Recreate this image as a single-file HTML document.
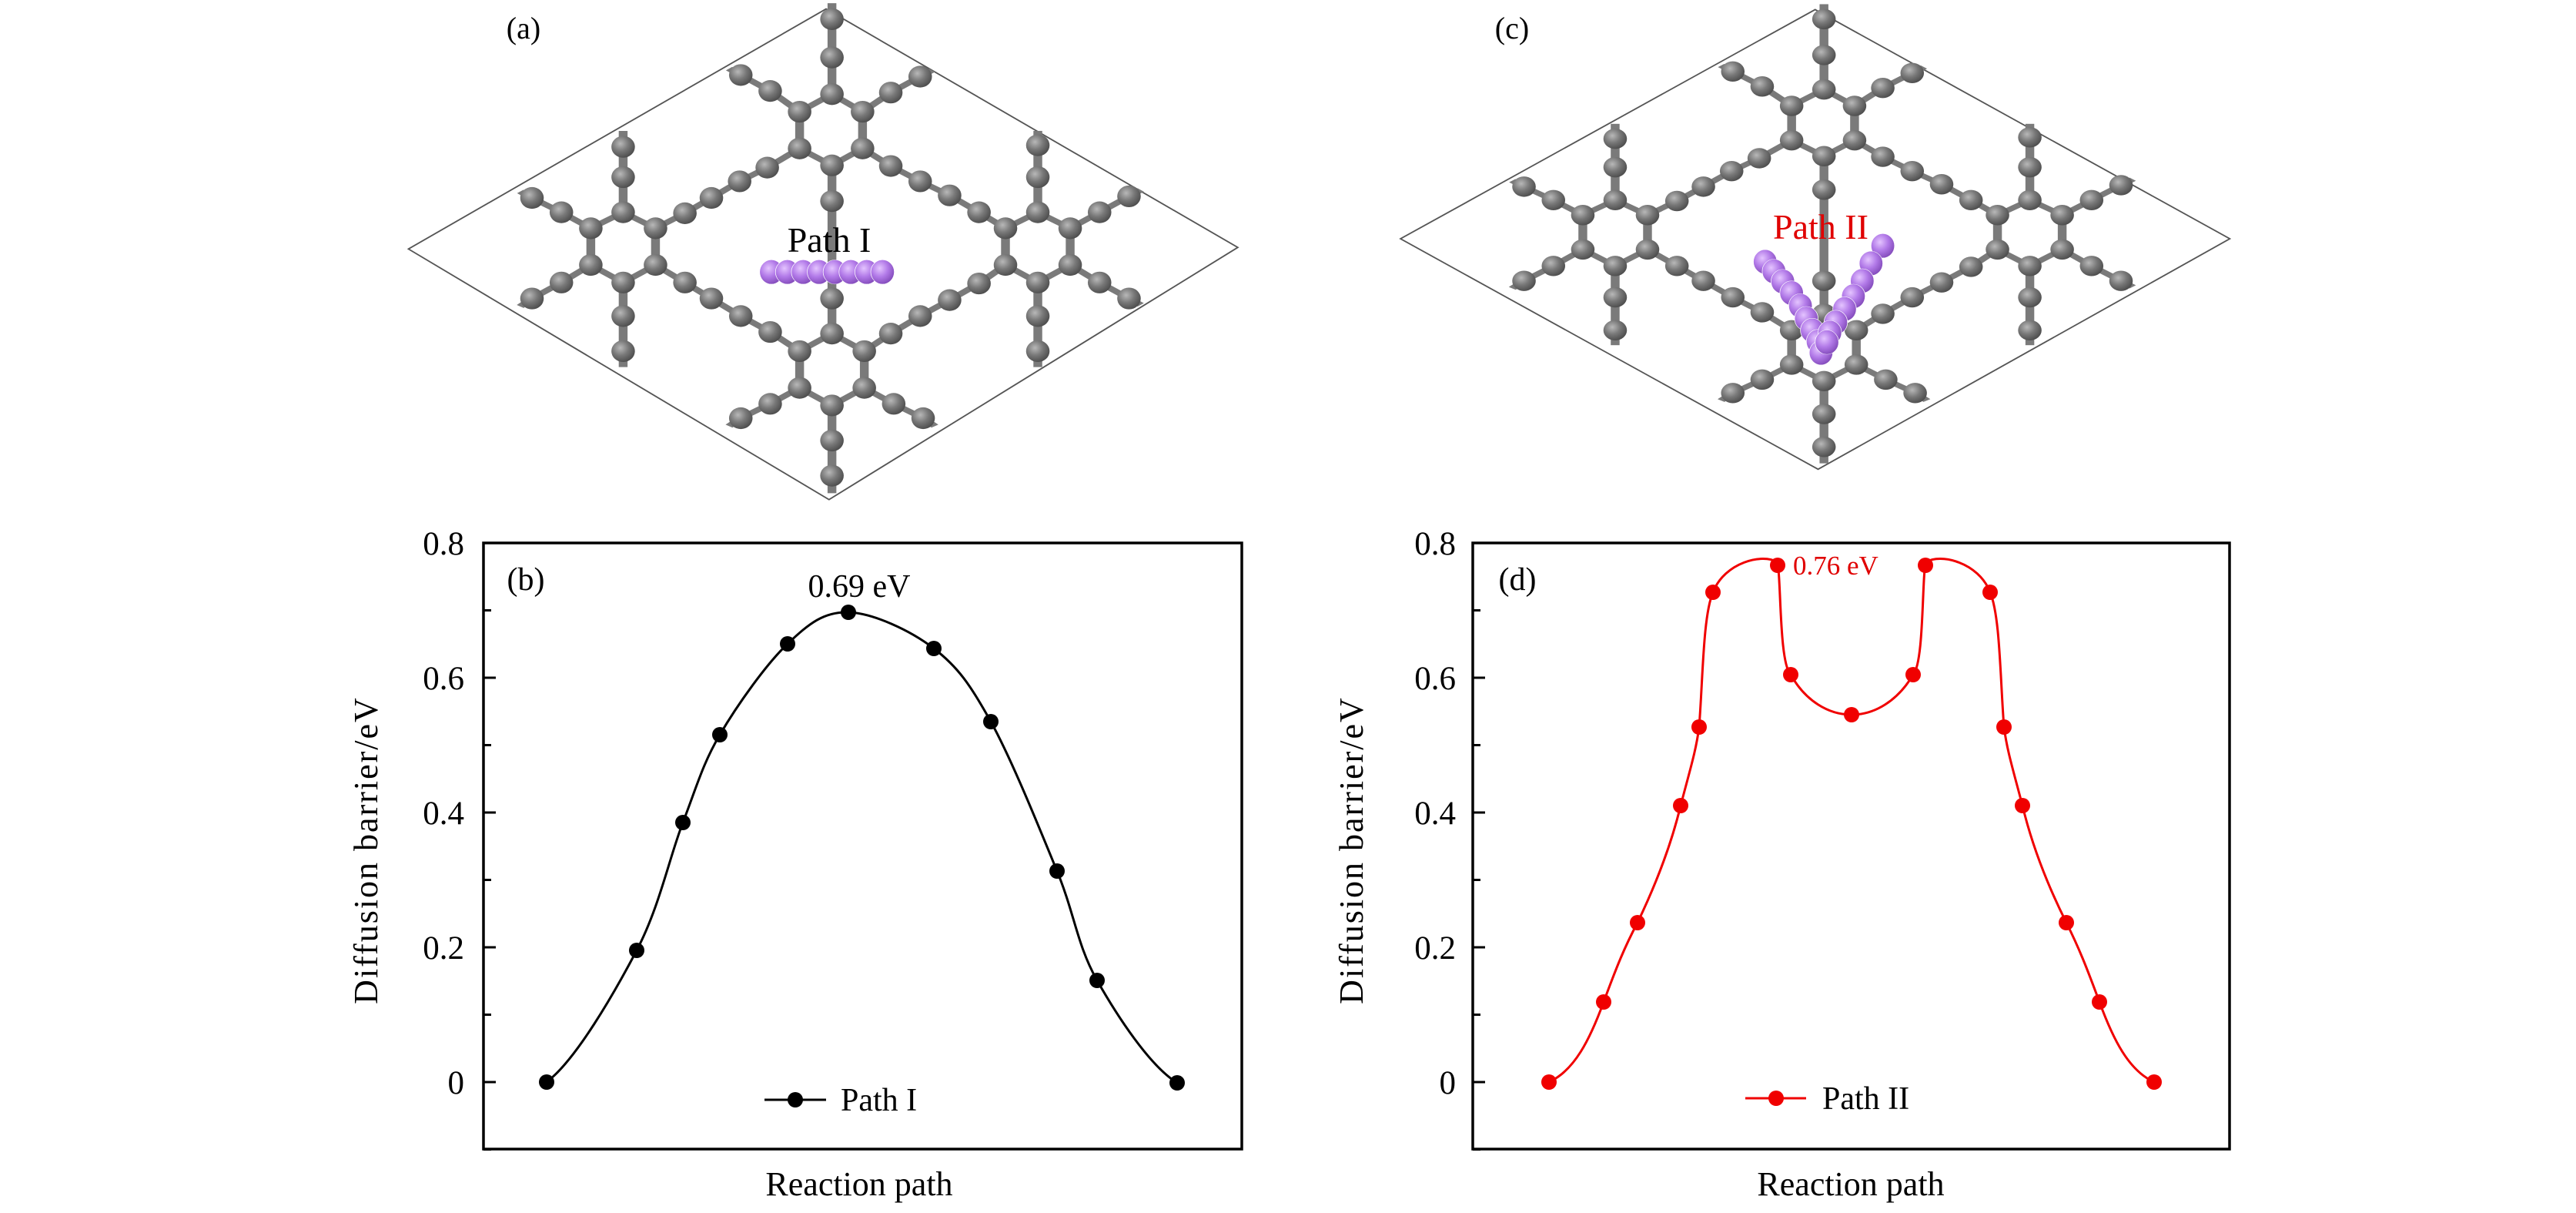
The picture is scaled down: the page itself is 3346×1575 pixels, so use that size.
<!DOCTYPE html>
<html><head><meta charset="utf-8"><style>
html,body{margin:0;padding:0;background:#fff;}
svg{display:block;}
text{font-family:"Liberation Serif",serif;}
</style></head><body>
<svg id="s" width="3346" height="1575" viewBox="0 0 3346 1575" xmlns="http://www.w3.org/2000/svg">
<defs>
<radialGradient id="ga" cx="0.38" cy="0.35" r="0.7"><stop offset="0" stop-color="#b8b8b8"/><stop offset="0.5" stop-color="#787878"/><stop offset="1" stop-color="#4a4a4a"/></radialGradient>
<radialGradient id="gp" cx="0.38" cy="0.35" r="0.7"><stop offset="0" stop-color="#e4c4ff"/><stop offset="0.5" stop-color="#b27ae8"/><stop offset="1" stop-color="#8048b8"/></radialGradient>
</defs>
<g transform="translate(500,0) scale(0.764,0.4145)">
  <polygon points="40,780 750,28 1450,775 755,1565" fill="none" stroke="#555" stroke-width="3.5"/>
  <g id="mol"></g>
  <g id="pa"></g>
</g>
<text x="680" y="50" font-size="40" text-anchor="middle">(a)</text>
<text x="1077" y="327" font-size="46" text-anchor="middle">Path I</text>
<g transform="translate(1800,0) scale(0.764,0.4145)">
  <polygon points="25,748 730,30 1435,748 735,1470" fill="none" stroke="#555" stroke-width="3.5"/>
  <g transform="translate(-15,30) scale(1,0.937) translate(0,-28)"><g id="mol2"></g></g>
  <g id="pc"></g>
</g>
<text x="1964" y="50" font-size="40" text-anchor="middle">(c)</text>
<text x="2365" y="310" font-size="46" text-anchor="middle" fill="#e00000">Path II</text>

<g id="axb"></g>
<text x="683" y="766" font-size="42" text-anchor="middle">(b)</text>
<text x="1116" y="775" font-size="42" text-anchor="middle">0.69 eV</text>
<text transform="translate(490,1104) rotate(-90)" font-size="44" text-anchor="middle" letter-spacing="2">Diffusion barrier/eV</text>
<text x="1116" y="1552" font-size="44" text-anchor="middle">Reaction path</text>
<path id="cb" fill="none" stroke="#000" stroke-width="3"/>
<g id="mb"></g>
<line x1="993" y1="1428" x2="1073" y2="1428" stroke="#000" stroke-width="3"/>
<circle cx="1033" cy="1428" r="10" fill="#000"/>
<text x="1092" y="1442" font-size="42">Path I</text>

<g id="axd"></g>
<text x="1971" y="766" font-size="42" text-anchor="middle">(d)</text>
<text x="2329" y="746" font-size="35" fill="#e00000">0.76 eV</text>
<text transform="translate(1770,1104) rotate(-90)" font-size="44" text-anchor="middle" letter-spacing="2">Diffusion barrier/eV</text>
<text x="2404" y="1552" font-size="44" text-anchor="middle">Reaction path</text>
<path fill="none" stroke="#f00000" stroke-width="3" d="M2012,1405 C2045,1390 2065,1350 2083,1301 C2100,1255 2110,1230 2127,1198 C2150,1150 2170,1100 2183,1046 C2195,1000 2203,975 2207,944 C2212,880 2212,800 2225,769 C2240,730 2290,718 2308,730 C2314,740 2310,860 2326,876 C2345,910 2375,928 2405,928 C2435,928 2465,910 2485,876 C2500,860 2496,740 2502,730 C2520,718 2570,730 2585,769 C2598,800 2598,880 2603,944 C2607,975 2615,1000 2627,1046 C2640,1100 2660,1150 2684,1198 C2700,1230 2710,1255 2727,1301 C2745,1350 2765,1390 2798,1405"/>
<g id="md"></g>
<line x1="2267" y1="1426" x2="2346" y2="1426" stroke="#f00000" stroke-width="3"/>
<circle cx="2307" cy="1426" r="10" fill="#f00000"/>
<text x="2367" y="1440" font-size="42">Path II</text>
</svg>
<script>
var NS="http://www.w3.org/2000/svg";
function el(p,t,a){var e=document.createElementNS(NS,t);for(var k in a)e.setAttribute(k,a[k]);p.appendChild(e);return e;}
function axes(id,L,R,labR){
  var g=document.getElementById(id);
  el(g,"rect",{x:L,y:705,width:R-L,height:787,fill:"none",stroke:"#000","stroke-width":3.5});
  for(var i=-1;i<=8;i++){var y=1405-i*87.5;
    var major=(i%2==0)&&i>=0;
    el(g,"line",{x1:L,y1:y,x2:L+(major?16:10),y2:y,stroke:"#000","stroke-width":3});
    if(major){var t=el(g,"text",{x:labR,y:y+15,"font-size":43,"text-anchor":"end"});t.textContent=(i==0?"0":(i/10).toFixed(1));}
  }
}
axes("axb",628,1613,603);
axes("axd",1913,2896,1891);
var pb=[[600,1405],[710,1405],[827,1234],[887,1068],[935,954],[1023,836],[1102,795],[1213,842],[1287,937],[1373,1131],[1425,1273],[1529,1406],[1640,1406]];
function cr(p){var d="M"+p[1][0]+","+p[1][1];for(var i=1;i<p.length-2;i++){var p0=p[i-1],p1=p[i],p2=p[i+1],p3=p[i+2];
 d+=" C"+(p1[0]+(p2[0]-p0[0])/6)+","+(p1[1]+(p2[1]-p0[1])/6)+" "+(p2[0]-(p3[0]-p1[0])/6)+","+(p2[1]-(p3[1]-p1[1])/6)+" "+p2[0]+","+p2[1];}return d;}
document.getElementById("cb").setAttribute("d",cr(pb));
var mb=document.getElementById("mb");pb.slice(1,-1).forEach(function(p){el(mb,"circle",{cx:p[0],cy:p[1],r:10,fill:"#000"});});
var pd=[[2012,1405],[2083,1301],[2127,1198],[2183,1046],[2207,944],[2225,769],[2309,734],[2326,876],[2405,928],[2485,876],[2501,734],[2585,769],[2603,944],[2627,1046],[2684,1198],[2727,1301],[2798,1405]];
var md=document.getElementById("md");pd.forEach(function(p){el(md,"circle",{cx:p[0],cy:p[1],r:10,fill:"#f00000"});});
var A={
 t1:[760,295],t2:[705,350],t3:[812,350],t4:[705,465],t5:[812,465],t6:[760,518],
 tu1:[760,180],tu2:[760,60],tl1:[655,285],tl2:[605,235],tr1:[860,290],tr2:[910,240],tc:[760,630],
 l1:[405,665],l2:[350,715],l3:[460,715],l4:[350,830],l5:[460,830],l6:[405,885],
 lu1:[405,555],lu2:[405,460],lb1:[405,990],lb2:[405,1100],lul1:[300,665],lul2:[250,620],lll1:[300,885],lll2:[250,935],
 b1:[760,1045],b2:[705,1100],b3:[815,1100],b4:[705,1215],b5:[815,1215],b6:[760,1270],
 bc:[760,935],bd1:[760,1380],bd2:[760,1490],bl1:[655,1265],bl2:[605,1310],br1:[865,1265],br2:[915,1310],
 r1:[1110,665],r2:[1055,715],r3:[1165,715],r4:[1055,830],r5:[1165,830],r6:[1110,885],
 ru1:[1110,555],ru2:[1110,455],rb1:[1110,990],rb2:[1110,1100],rur1:[1215,665],rur2:[1265,615],rlr1:[1215,885],rlr2:[1265,935],
 c1a:[650,525],c1b:[603,568],c1c:[555,620],c1d:[510,668],
 c2a:[510,885],c2b:[555,935],c2c:[605,990],c2d:[655,1040],
 c3a:[860,520],c3b:[910,568],c3c:[960,612],c3d:[1010,665],
 c4a:[860,1045],c4b:[910,990],c4c:[960,940],c4d:[1010,888]
};
var B=[["t1","t2"],["t1","t3"],["t2","t4"],["t3","t5"],["t4","t6"],["t5","t6"],["t1","tu1"],["tu1","tu2"],["t2","tl1"],["tl1","tl2"],["t3","tr1"],["tr1","tr2"],["t6","tc"],
["l1","l2"],["l1","l3"],["l2","l4"],["l3","l5"],["l4","l6"],["l5","l6"],["l1","lu1"],["lu1","lu2"],["l6","lb1"],["lb1","lb2"],["l2","lul1"],["lul1","lul2"],["l4","lll1"],["lll1","lll2"],
["b1","b2"],["b1","b3"],["b2","b4"],["b3","b5"],["b4","b6"],["b5","b6"],["b1","bc"],["b6","bd1"],["bd1","bd2"],["b4","bl1"],["bl1","bl2"],["b5","br1"],["br1","br2"],["tc","bc"],
["r1","r2"],["r1","r3"],["r2","r4"],["r3","r5"],["r4","r6"],["r5","r6"],["r1","ru1"],["ru1","ru2"],["r6","rb1"],["rb1","rb2"],["r3","rur1"],["rur1","rur2"],["r5","rlr1"],["rlr1","rlr2"],
["t4","c1a"],["c1a","c1b"],["c1b","c1c"],["c1c","c1d"],["c1d","l3"],
["l5","c2a"],["c2a","c2b"],["c2b","c2c"],["c2c","c2d"],["c2d","b2"],
["t5","c3a"],["c3a","c3b"],["c3b","c3c"],["c3c","c3d"],["c3d","r2"],
["b3","c4a"],["c4a","c4b"],["c4b","c4c"],["c4c","c4d"],["c4d","r4"],
["lu2",[405,410]],["lb2",[405,1150]],["ru2",[1110,410]],["rb2",[1110,1150]],["tu2",[760,10]],["bd2",[760,1545]],
["lul2",[230,600]],["lll2",[230,960]],["rur2",[1285,595]],["rlr2",[1285,955]],["tl2",[585,215]],["tr2",[930,220]],["bl2",[585,1335]],["br2",[935,1335]]];
function drawMol(g){
 B.forEach(function(b){var p=typeof b[0]=="string"?A[b[0]]:b[0],q=typeof b[1]=="string"?A[b[1]]:b[1];
  el(g,"line",{x1:p[0],y1:p[1],x2:q[0],y2:q[1],stroke:"#7a7a7a","stroke-width":15});});
 for(var k in A){el(g,"ellipse",{cx:A[k][0],cy:A[k][1],rx:20,ry:34,fill:"url(#ga)"});}
}
drawMol(document.getElementById("mol"));
drawMol(document.getElementById("mol2"));
var pa=document.getElementById("pa");
for(var i=0;i<8;i++){el(pa,"ellipse",{cx:657+i*27,cy:852,rx:20,ry:38,fill:"url(#gp)",stroke:"#fff","stroke-width":1});}
var pcg=document.getElementById("pc");
var P=[[645,820],[660,850],[675,882],[690,918],[705,958],[715,998],[725,1035],[735,1070],[740,1105],[845,770],[825,825],[810,880],[795,928],[780,968],[765,1010],[755,1042],[750,1072]];
P.forEach(function(p){el(pcg,"ellipse",{cx:p[0],cy:p[1],rx:20,ry:38,fill:"url(#gp)",stroke:"#fff","stroke-width":1});});
</script>
</body></html>
